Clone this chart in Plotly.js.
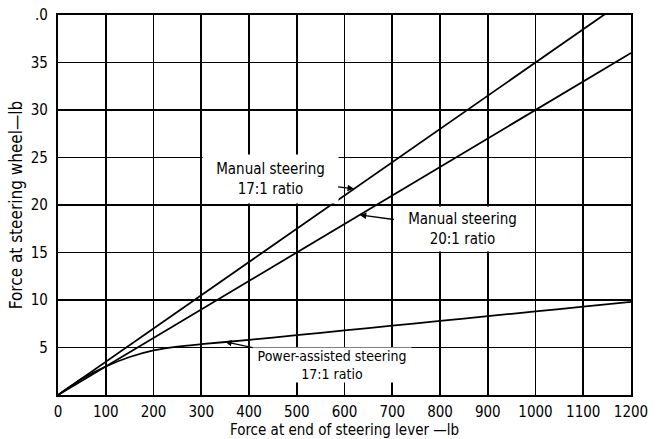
<!DOCTYPE html>
<html>
<head>
<meta charset="utf-8">
<script src="https://cdn.plot.ly/plotly-3.0.1.min.js"></script>
<style>html,body{margin:0;padding:0;background:#fff;}#chart{width:659px;height:439px;}</style>
</head>
<body>
<div id="chart"></div>
<script>
// Force at end of steering lever (lb) vs force at steering wheel (lb)
const manual17X = [0, 500, 1000, 1200];
const manual17Y = [0, 17.5, 35, 42];
const manual20X = [0, 500, 1000, 1200];
const manual20Y = [0, 15, 30, 36];
const powerX = [0, 50, 100, 150, 200, 250, 300, 400, 500, 600, 700, 800, 900, 1000, 1100, 1200];
const powerY = [0, 1.7, 3.0, 4.0, 4.7, 5.1, 5.35, 5.8, 6.3, 6.8, 7.3, 7.8, 8.3, 8.8, 9.3, 9.8];
const xTickVals = [0, 100, 200, 300, 400, 500, 600, 700, 800, 900, 1000, 1100, 1200];
const xTickText = ["0", "100", "200", "300", "400", "500", "600", "700", "800", "900", "1000", "1100", "1200"];
const yTickVals = [5, 10, 15, 20, 25, 30, 35, 40];
const yTickText = ["5", "10", "15", "20", "25", "30", "35", ".0"];
const labels = ["Manual steering<br>17:1 ratio", "Manual steering<br>20:1 ratio", "Power-assisted steering<br>17:1 ratio"];
const labelTipX = [620, 632, 350];
const labelTipY = [21.7, 18.96, 5.6];

const FONT = "DejaVu Sans Condensed, DejaVu Sans, sans-serif";
const lineStyle = {color: "#000", width: 1.8};

const traces = [
  {x: manual17X, y: manual17Y, mode: "lines", line: lineStyle, name: labels[0], hoverinfo: "skip"},
  {x: manual20X, y: manual20Y, mode: "lines", line: lineStyle, name: labels[1], hoverinfo: "skip"},
  {x: powerX, y: powerY, mode: "lines", line: Object.assign({shape: "spline", smoothing: 0.6}, lineStyle), name: labels[2], hoverinfo: "skip"}
];

const boxes = [
  {ax: -84, ay: -10, width: 125, height: 38, borderpad: 5, size: 15},
  {ax: 103, ay: 14, width: 129, height: 36, borderpad: 4, size: 15},
  {ax: 107, ay: 23, width: 158, height: 34, borderpad: 0, size: 14}
];

const annotations = labels.map((t, i) => ({
  x: labelTipX[i], y: labelTipY[i], xref: "x", yref: "y",
  text: t, showarrow: true, arrowhead: 2, arrowsize: 1, arrowwidth: 1.3,
  arrowcolor: "#000", standoff: 0, ax: boxes[i].ax, ay: boxes[i].ay,
  bgcolor: "#fff", width: boxes[i].width, height: boxes[i].height,
  borderpad: boxes[i].borderpad, align: "center",
  font: {family: FONT, size: boxes[i].size, color: "#000"}
}));

const layout = {
  width: 659, height: 439,
  margin: {l: 58, r: 28, t: 15, b: 44},
  paper_bgcolor: "#fff", plot_bgcolor: "#fff",
  showlegend: false,
  font: {family: FONT, color: "#000"},
  xaxis: {
    range: [0, 1200], tickvals: xTickVals, ticktext: xTickText,
    showgrid: true, gridcolor: "#000", gridwidth: 1.8,
    showline: true, linecolor: "#000", linewidth: 2.2, mirror: true,
    zeroline: false, ticks: "", ticklabelstandoff: 2,
    tickfont: {family: FONT, size: 15, color: "#000"},
    title: {text: "Force at end of steering lever —lb", standoff: 7, font: {family: FONT, size: 15, color: "#000"}},
    fixedrange: true
  },
  yaxis: {
    range: [0, 40], tickvals: yTickVals, ticktext: yTickText,
    showgrid: true, gridcolor: "#000", gridwidth: 1.8,
    showline: true, linecolor: "#000", linewidth: 2.2, mirror: true,
    zeroline: false, ticks: "", ticklabelstandoff: 5,
    tickfont: {family: FONT, size: 15, color: "#000"},
    title: {text: "Force at steering wheel—lb", standoff: 4, font: {family: FONT, size: 17, color: "#000"}},
    fixedrange: true
  },
  annotations: annotations
};

Plotly.newPlot("chart", traces, layout, {staticPlot: true, displayModeBar: false});
</script>
</body>
</html>
